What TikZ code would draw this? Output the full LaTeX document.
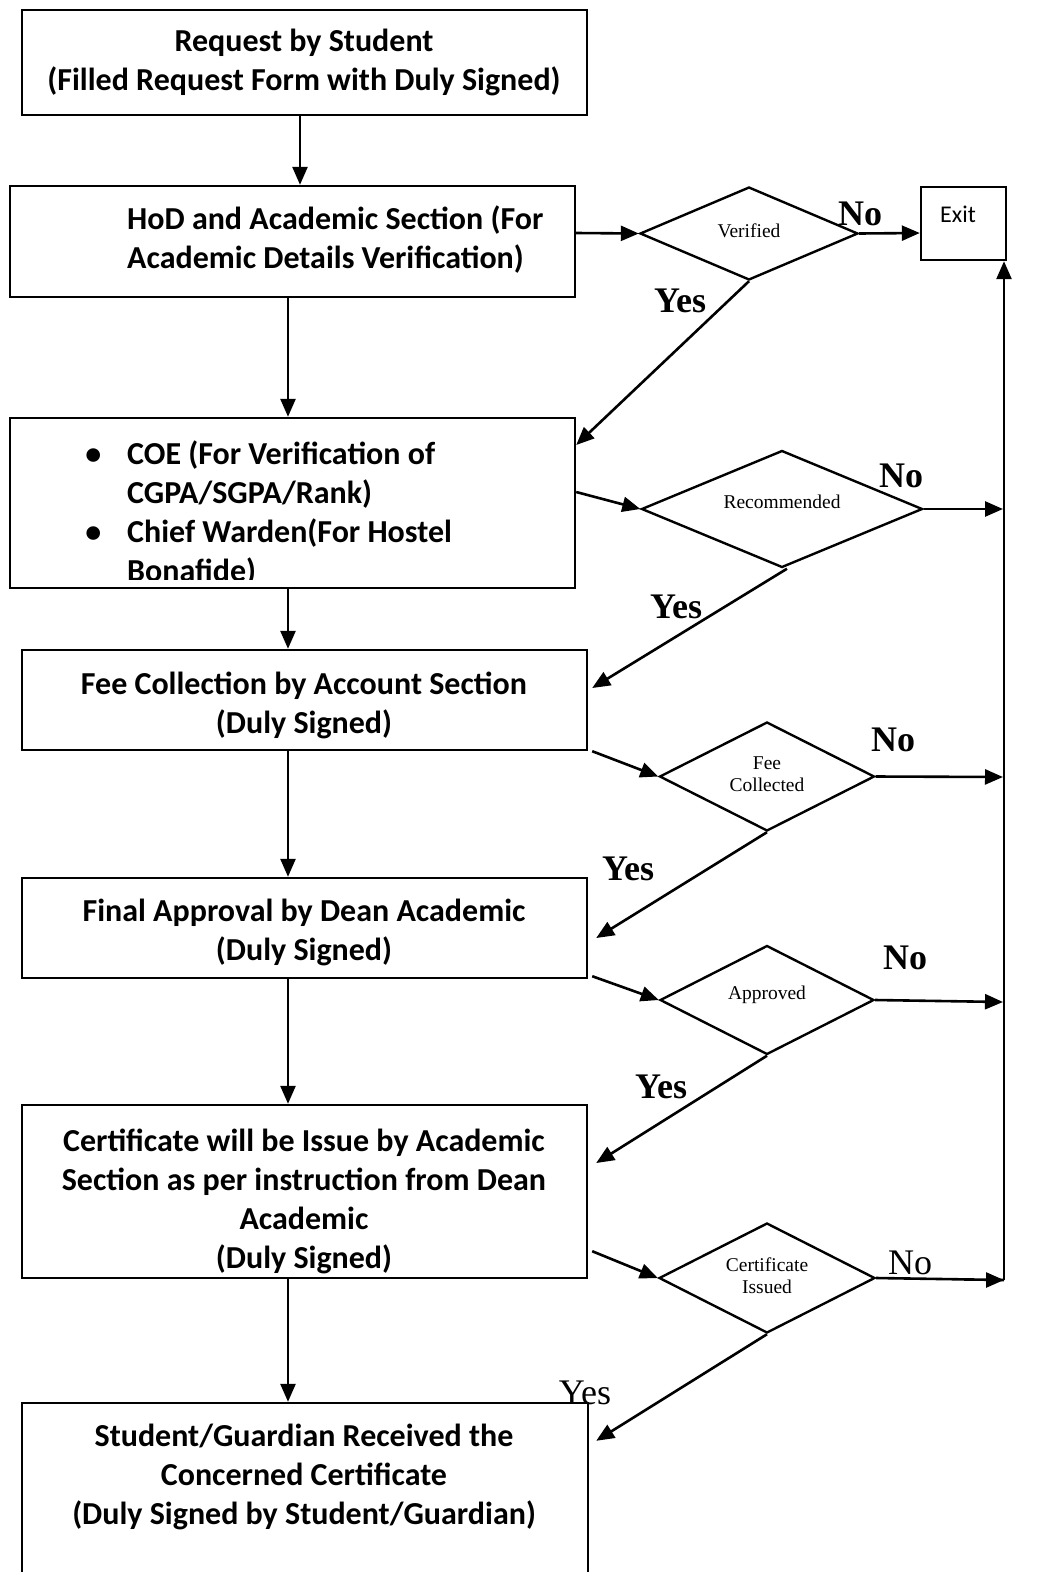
\documentclass[tikz,border=0pt]{standalone}
\usepackage{fontspec}
\setmainfont{Carlito}
\newfontfamily\serifface{Liberation Serif}
\usetikzlibrary{arrows.meta,shapes.geometric}
\begin{document}
\begin{tikzpicture}[x=1pt,y=-1pt,
  box/.style={draw, line width=2.4pt, rectangle, inner sep=0pt},
  btext/.style={inner sep=0pt, font=\fontsize{32}{39}\selectfont\bfseries, align=center},
  dia/.style={draw, line width=2.4pt, diamond, inner sep=0pt, aspect=2, font=\serifface\fontsize{19.5}{22}\selectfont, align=center},
  arr/.style={line width=2.6pt, -{Triangle[length=18pt,width=15pt]}},
  ln/.style={line width=2.6pt},
  lbl/.style={inner sep=0pt, font=\serifface\bfseries\fontsize{36}{36}\selectfont},
  lblr/.style={inner sep=0pt, font=\serifface\fontsize{36}{36}\selectfont},
]
\clip (0,0) rectangle (1043,1572);
\fill[white] (0,0) rectangle (1043,1572);

% boxes
\node[box, minimum width=565pt, minimum height=105pt] (b1) at (304.5,62.5) {};
\node[btext] (t1) at (304,62)
  {Request by Student\\(Filled Request Form with Duly Signed)};
\node[box, minimum width=565pt, minimum height=111pt] (b2) at (292.5,241.5) {};
\node[btext, align=left, anchor=west] (t2) at (127,239.5)
  {HoD and Academic Section (For\\Academic Details Verification)};
\node[box, minimum width=565pt, minimum height=170pt] (b3) at (292.5,503) {};
\begin{scope}
  \clip (10,418) rectangle (575,579);
  \node[btext, align=left, anchor=north west] (t3) at (127,441)
    {\llap{\textbullet\hspace{26pt}}COE (For Verification of\\CGPA/SGPA/Rank)\\\llap{\textbullet\hspace{26pt}}Chief Warden(For Hostel\\Bonafide)};
\end{scope}
\node[box, minimum width=565pt, minimum height=100pt] (b4) at (304.5,700) {};
\node[btext] (t4) at (304,705)
  {Fee Collection by Account Section\\(Duly Signed)};
\node[box, minimum width=565pt, minimum height=100pt] (b5) at (304.5,928) {};
\node[btext] (t5) at (304,932)
  {Final Approval by Dean Academic\\(Duly Signed)};
\node[box, minimum width=565pt, minimum height=173pt] (b6) at (304.5,1191.5) {};
\node[btext] (t6) at (304,1201)
  {Certificate will be Issue by Academic\\Section as per instruction from Dean\\Academic\\(Duly Signed)};
\node[box, minimum width=566pt, minimum height=197pt] (b7) at (305,1501.5) {};
\node[btext] (t7) at (304,1477)
  {Student/Guardian Received the\\Concerned Certificate\\(Duly Signed by Student/Guardian)};

% exit
\node[box, minimum width=85pt, minimum height=73pt] (ex) at (963.5,223.5) {};
\node[inner sep=0pt, anchor=west, font=\fontsize{24}{24}\selectfont] (tex) at (940,214) {Exit};

% decisions
\node[dia, minimum width=218pt, minimum height=93pt] (d1) at (749,233.5) {\raisebox{6pt}{Verified}};
\node[dia, minimum width=281pt, minimum height=117pt] (d2) at (782,509) {\raisebox{14pt}{Recommended}};
\node[dia, minimum width=215pt, minimum height=109pt] (d3) at (767,776.5) {\raisebox{-6pt}{\begin{tabular}{@{}c@{}}Fee\\Collected\end{tabular}}};
\node[dia, minimum width=214pt, minimum height=109pt] (d4) at (767,1000) {\raisebox{14pt}{Approved}};
\node[dia, minimum width=216pt, minimum height=110pt] (d5) at (767,1278) {\raisebox{-5pt}{\begin{tabular}{@{}c@{}}Certificate\\Issued\end{tabular}}};

% right collector line
\coordinate (r2) at (1003,509);
\coordinate (r3) at (1003,777);
\coordinate (r4) at (1003,1002);
\coordinate (r5) at (1004,1280);

% vertical main arrows
\draw[arr] ([xshift=-4.5pt]b1.south) -- ([xshift=7.5pt]b2.north);
\draw[arr] ([xshift=-4.5pt]b2.south) -- ([xshift=-4.5pt]b3.north);
\draw[arr] ([xshift=-4.5pt]b3.south) -- ([xshift=-16.5pt]b4.north);
\draw[arr] ([xshift=-16.5pt]b4.south) -- ([xshift=-16.5pt]b5.north);
\draw[arr] ([xshift=-16.5pt]b5.south) -- ([xshift=-16.5pt]b6.north);
\draw[arr] ([xshift=-16.5pt]b6.south) -- ([xshift=-17pt]b7.north);

% to decisions
\draw[arr] ([yshift=8.5pt]b2.east) -- (d1.west);
\draw[arr] ([yshift=11pt]b3.east) -- (d2.west);
\draw[arr] ([xshift=4pt]b4.south east) -- (d3.west);
\draw[arr] ([xshift=4pt,yshift=3pt]b5.south east) -- (d4.west);
\draw[arr] ([xshift=4pt,yshift=28pt]b6.south east) -- (d5.west);

% No branches
\draw[arr] (d1.east) -- ([yshift=-9.5pt]ex.west);
\draw[arr] (d2.east) -- (r2);
\draw[arr] (d3.east) -- (r3);
\draw[arr] (d4.east) -- (r4);
\draw[ln] (d5.east) -- (r5);
\draw[arr] (r5) -- (ex.south -| r5);
\draw[arr] ([xshift=-40pt]r5) -- (r5);

% Yes branches
\draw[arr] (d1.south) -- ([yshift=58pt]b3.east);
\draw[arr] ([xshift=5pt]d2.south) -- ([xshift=4pt,yshift=12pt]b4.east);
\draw[arr] (d3.south) -- ([xshift=8pt,yshift=-10pt]b5.east);
\draw[arr] (d4.south) -- ([xshift=8pt,yshift=28.5pt]b6.east);
\draw[arr] (d5.south) -- ([xshift=7pt,yshift=-39pt]b7.north east);

% labels
\node[lbl] (n1) at (860,214) {No};
\node[lbl] (y1) at (680,301) {Yes};
\node[lbl] (n2) at (901,476) {No};
\node[lbl] (y2) at (676,607) {Yes};
\node[lbl] (n3) at (893,740) {No};
\node[lbl] (y3) at (628,869) {Yes};
\node[lbl] (n4) at (905,958) {No};
\node[lbl] (y4) at (661,1087) {Yes};
\node[lblr] (n5) at (910,1263) {No};
\node[lblr] (y5) at (585,1393) {Yes};
\end{tikzpicture}
\end{document}
